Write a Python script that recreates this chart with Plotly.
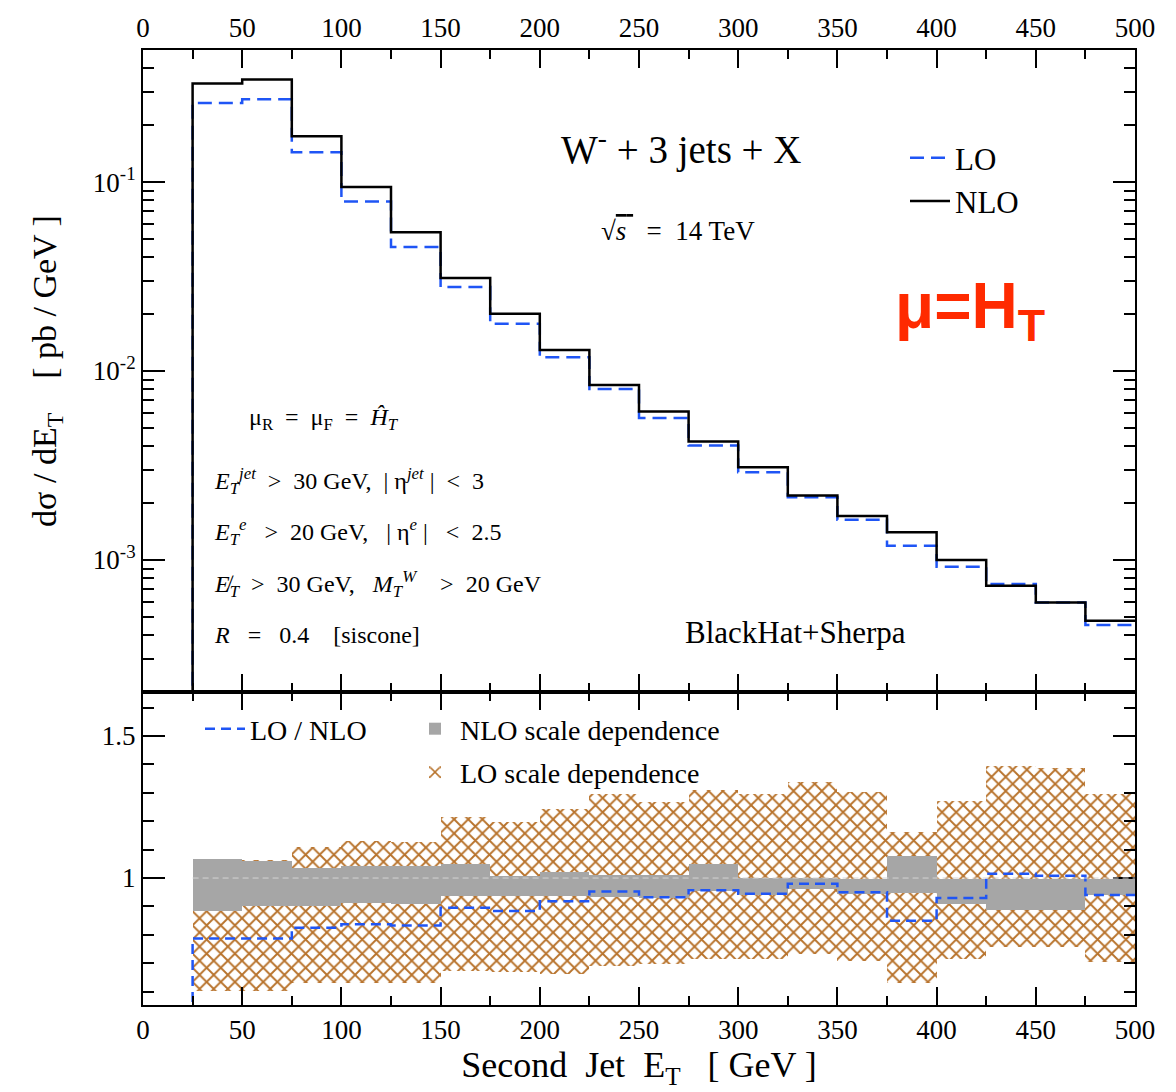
import plotly.graph_objects as go

# ---------------- data ----------------
bin_edges = [25, 50, 75, 100, 125, 150, 175, 200, 225, 250, 275,
             300, 325, 350, 375, 400, 425, 450, 475, 500]

nlo_xsec = [0.332, 0.349, 0.175, 0.0941, 0.0543, 0.0311, 0.0201, 0.0129,
            0.00842, 0.00610, 0.00423, 0.00309, 0.00219, 0.00171, 0.00140,
            0.000999, 0.000730, 0.000596, 0.000476]
lo_xsec = [0.262, 0.274, 0.144, 0.0789, 0.0453, 0.0278, 0.01777, 0.01183,
           0.00804, 0.00564, 0.00403, 0.00291, 0.00215, 0.00163, 0.00119,
           0.000920, 0.000745, 0.000596, 0.000452]

ratio_lo_nlo = [0.787, 0.787, 0.825, 0.837, 0.833, 0.895, 0.884, 0.918,
                0.953, 0.932, 0.957, 0.945, 0.980, 0.950, 0.850, 0.930,
                1.015, 1.008, 0.940]

nlo_band_hi = [1.067, 1.060, 1.035, 1.041, 1.043, 1.050, 1.008, 1.023,
               1.012, 1.012, 1.050, 1.000, 1.000, 0.998, 1.078, 0.998,
               0.998, 0.998, 0.998]
nlo_band_lo = [0.884, 0.901, 0.902, 0.912, 0.907, 0.936, 0.936, 0.936,
               0.934, 0.930, 0.953, 0.942, 0.962, 0.943, 0.946, 0.910,
               0.887, 0.887, 0.940]

lo_band_hi = [1.067, 1.063, 1.110, 1.131, 1.128, 1.215, 1.197, 1.244,
              1.296, 1.267, 1.310, 1.296, 1.337, 1.302, 1.163, 1.273,
              1.395, 1.389, 1.296]
lo_band_lo = [0.604, 0.604, 0.632, 0.632, 0.632, 0.672, 0.668, 0.663,
              0.692, 0.698, 0.715, 0.715, 0.732, 0.709, 0.631, 0.715,
              0.756, 0.756, 0.704]

x_ticks = [0, 50, 100, 150, 200, 250, 300, 350, 400, 450, 500]
y_top_ticks = [1e-3, 1e-2, 1e-1]
y_top_ticktext = ["10<sup>-3</sup>", "10<sup>-2</sup>", "10<sup>-1</sup>"]
y_bot_ticks = [1.0, 1.5]
y_bot_ticktext = ["1", "1.5"]

# floor values used to close the histograms at the first bin edge
TOP_FLOOR = 1e-5
BOT_FLOOR = 0.0

# ---------------- styling ----------------
SERIF = "Liberation Serif"
BLUE = "#1f55f5"
BROWN = "#b8732c"
GRAY = "#a6a6a6"

W, H = 1176, 1092
L, R, T, B = 143, 41, 50, 87
PLOT_W = W - L - R
PLOT_H = H - T - B
SPLIT = 313 / PLOT_H  # lower panel fraction


def px(xp, yp):
    return (xp - L) / PLOT_W, (H - B - yp) / PLOT_H


def step_xy(vals, floor):
    xs = [bin_edges[0]] + list(bin_edges)
    ys = [floor] + list(vals) + [vals[-1]]
    return xs, ys


centers = [(a + b) / 2 for a, b in zip(bin_edges[:-1], bin_edges[1:])]
widths = [b - a for a, b in zip(bin_edges[:-1], bin_edges[1:])]

fig = go.Figure()

# ---- top panel ----
xs, ys = step_xy(lo_xsec, TOP_FLOOR)
fig.add_trace(go.Scatter(x=xs, y=ys, mode="lines", name="LO",
                         line=dict(color=BLUE, width=2.5, dash="14px,7px", shape="hv"),
                         xaxis="x", yaxis="y", legend="legend", legendrank=1))
xs, ys = step_xy(nlo_xsec, TOP_FLOOR)
fig.add_trace(go.Scatter(x=xs, y=ys, mode="lines", name="NLO",
                         line=dict(color="black", width=2.5, shape="hv"),
                         xaxis="x", yaxis="y", legend="legend", legendrank=2))

# ---- lower panel ----
fig.add_trace(go.Bar(x=centers, base=lo_band_lo,
                     y=[h - l for h, l in zip(lo_band_hi, lo_band_lo)],
                     width=widths, name="LO scale dependence",
                     marker=dict(color="white", line=dict(width=0),
                                 pattern=dict(shape="x", fgcolor=BROWN, bgcolor="white",
                                              size=10, solidity=0.34, fillmode="replace")),
                     xaxis="x2", yaxis="y2", legend="legend3", legendrank=2,
                     legendgroup="lo_band"))
fig.add_trace(go.Bar(x=centers, base=nlo_band_lo,
                     y=[h - l for h, l in zip(nlo_band_hi, nlo_band_lo)],
                     width=widths, name="NLO scale dependence",
                     marker=dict(color=GRAY, line=dict(width=0)),
                     xaxis="x2", yaxis="y2", legend="legend3", legendrank=1,
                     legendgroup="nlo_band"))
fig.add_shape(type="line", xref="x2", yref="y2", x0=bin_edges[0], x1=bin_edges[-1],
              y0=1, y1=1, line=dict(color="#d4d4d4", width=1, dash="6px,4px"))
xs, ys = step_xy(ratio_lo_nlo, BOT_FLOOR)
fig.add_trace(go.Scatter(x=xs, y=ys, mode="lines", name="LO / NLO",
                         line=dict(color=BLUE, width=2.5, dash="10px,6px", shape="hv"),
                         xaxis="x2", yaxis="y2", legend="legend2"))

# minor tick positions on log axis
minor_log = []
for e in [1e-4, 1e-3, 1e-2, 1e-1]:
    for m in range(2, 10):
        v = m * e
        if 2e-4 <= v <= 0.5:
            minor_log.append(v)

tickfont = dict(family=SERIF, size=27, color="black")
axis_common = dict(showgrid=False, zeroline=False, linecolor="black", linewidth=2,
                   mirror="ticks", ticks="inside", tickcolor="black", tickwidth=1.5)

fig.update_layout(
    width=W, height=H, autosize=False,
    margin=dict(l=L, r=R, t=T, b=B),
    paper_bgcolor="white", plot_bgcolor="white",
    barmode="overlay", bargap=0,
    font=dict(family=SERIF, color="black"),
    xaxis=dict(domain=[0, 1], anchor="y", side="top", range=[0, 500],
               tickvals=x_ticks, ticklen=18, tickfont=tickfont,
               minor=dict(dtick=25, tick0=0, ticks="inside", ticklen=9, tickcolor="black"),
               **axis_common),
    yaxis=dict(domain=[SPLIT, 1], anchor="x", type="log",
               range=[-3.699, -0.301], tickvals=y_top_ticks, ticktext=y_top_ticktext,
               ticklen=22, tickfont=tickfont,
               minor=dict(tickmode="array", tickvals=minor_log, ticks="inside",
                          ticklen=11, tickcolor="black"),
               title=dict(text="dσ / dE<sub>T</sub>    [ pb / GeV ]",
                          font=dict(family=SERIF, size=34), standoff=26),
               **axis_common),
    xaxis2=dict(domain=[0, 1], anchor="y2", side="bottom", range=[0, 500],
                tickvals=x_ticks, ticklen=18, tickfont=tickfont,
                minor=dict(dtick=25, tick0=0, ticks="inside", ticklen=9, tickcolor="black"),
                title=dict(text="Second  Jet  E<sub>T</sub>   [ GeV ]",
                           font=dict(family=SERIF, size=36), standoff=4),
                **axis_common),
    yaxis2=dict(domain=[0, SPLIT], anchor="x2", range=[0.553, 1.655],
                tickvals=y_bot_ticks, ticktext=y_bot_ticktext, ticklen=22,
                tickfont=tickfont,
                minor=dict(dtick=0.1, tick0=0, ticks="inside", ticklen=11,
                           tickcolor="black"),
                **axis_common),
    legend=dict(x=px(905, 0)[0], y=px(0, 131)[1], xanchor="left", yanchor="top",
                font=dict(family=SERIF, size=31), bgcolor="rgba(0,0,0,0)",
                tracegroupgap=0, itemwidth=40),
    legend2=dict(x=px(200, 0)[0], y=px(0, 704)[1], xanchor="left", yanchor="top",
                 font=dict(family=SERIF, size=28), bgcolor="rgba(0,0,0,0)",
                 itemwidth=40),
    legend3=dict(x=px(410, 0)[0], y=px(0, 704)[1], xanchor="left", yanchor="top",
                 font=dict(family=SERIF, size=28), bgcolor="rgba(0,0,0,0)",
                 tracegroupgap=4, itemwidth=40),
)

annots = [
    dict(text="W<sup>-</sup> + 3 jets + X", xy=(681, 147), size=39, anchor="center"),
    dict(text="√<span style='text-decoration:overline'><i>s</i> </span>  =  14 TeV",
         xy=(678, 231), size=27, anchor="center"),
    dict(text="μ<sub>R</sub>  =  μ<sub>F</sub>  =  <i>Ĥ</i><sub><i>T</i></sub>",
         xy=(247, 419), size=24, anchor="left"),
    dict(text="<i>E</i><sub><i>T</i></sub><sup><i>jet</i></sup>  >  30 GeV,  | η<sup><i>jet</i></sup> |  <  3",
         xy=(212, 481), size=24, anchor="left"),
    dict(text="<i>E</i><sub><i>T</i></sub><sup><i>e</i></sup>   >  20 GeV,   | η<sup><i>e</i></sup> |   <  2.5",
         xy=(212, 532), size=24, anchor="left"),
    dict(text="<i>E̸</i><sub><i>T</i></sub>  >  30 GeV,   <i>M</i><sub><i>T</i></sub><sup><i>W</i></sup>    >  20 GeV",
         xy=(212, 584), size=24, anchor="left"),
    dict(text="<i>R</i>   =   0.4    [siscone]", xy=(212, 635), size=24, anchor="left"),
    dict(text="BlackHat+Sherpa", xy=(795, 632), size=31, anchor="center"),
]
for a in annots:
    xp, yp = px(*a["xy"])
    fig.add_annotation(text=a["text"], x=xp, y=yp, xref="paper", yref="paper",
                       xanchor=a["anchor"], yanchor="middle", showarrow=False,
                       font=dict(family=SERIF, size=a["size"], color="black"))

xp, yp = px(970, 310)
fig.add_annotation(text="<b>μ=H<sub>T</sub></b>", x=xp, y=yp, xref="paper", yref="paper",
                   xanchor="center", yanchor="middle", showarrow=False,
                   font=dict(family="Liberation Sans", size=64, color="#ff2a00"))

fig.write_html("out.html", config={"displayModeBar": False},
               post_script="document.body.style.margin='0';")
